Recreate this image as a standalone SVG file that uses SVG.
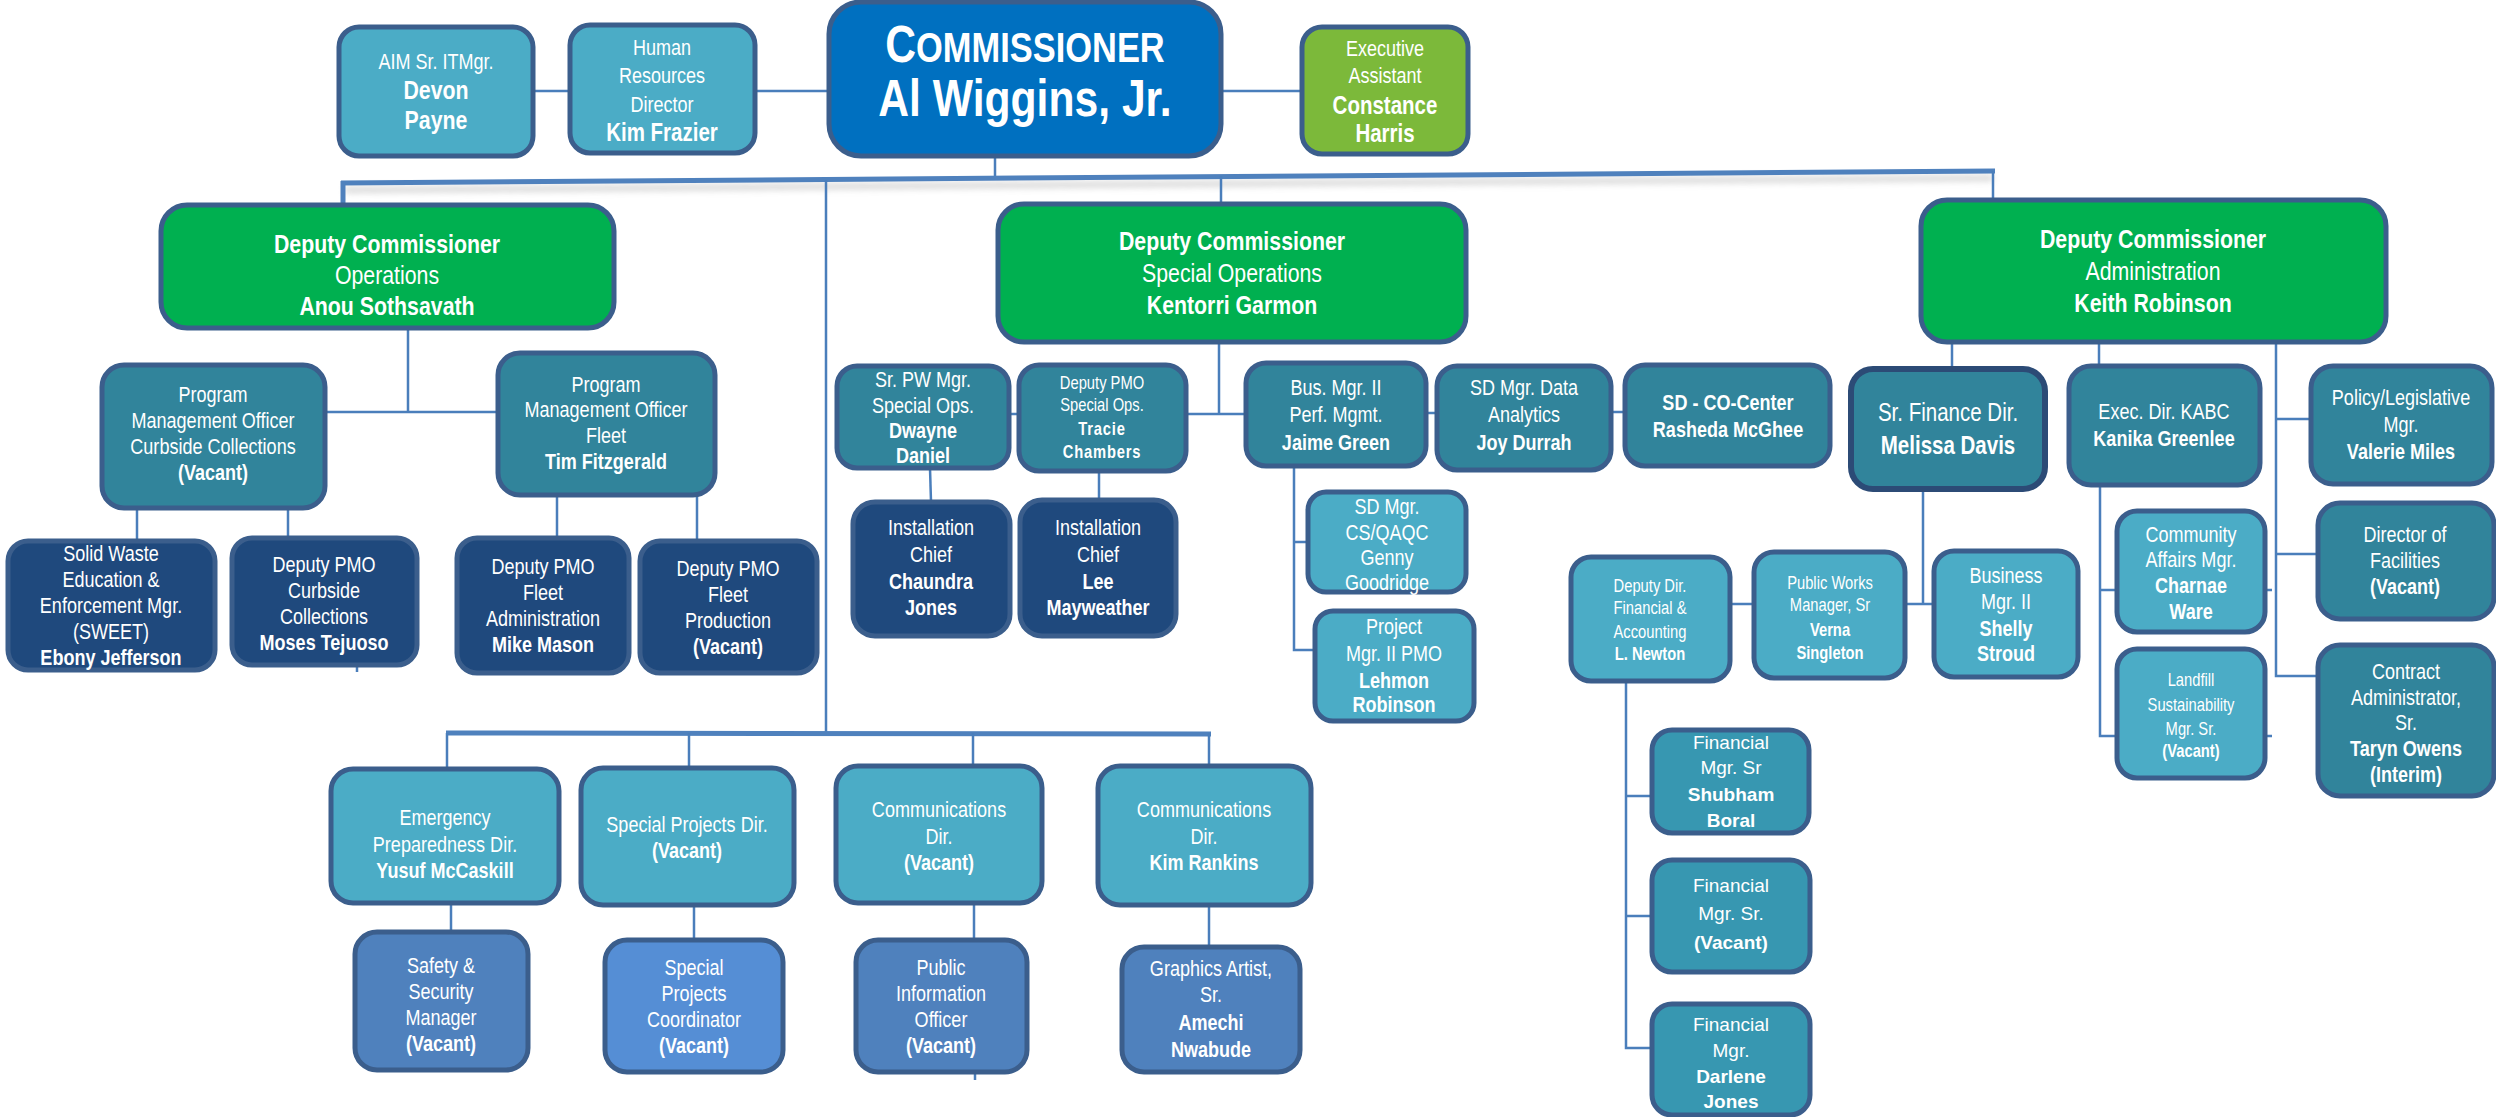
<svg xmlns="http://www.w3.org/2000/svg" width="2496" height="1117" viewBox="0 0 2496 1117">
<defs>
<style>
.n rect{stroke:#3B5E8C;stroke-width:5}
.c1{fill:#4BACC6}.c2{fill:#31849B}.c3{fill:#1F497D}.c4{fill:#4F81BD}.c5{fill:#558ED5}
.g{fill:#00B050}.ea{fill:#7CB93A}.cm{fill:#0070C0}.f{fill:#3797B1}
.t{font-family:'Liberation Sans',Arial,sans-serif;fill:#fff;text-anchor:middle;font-size:22px}
.r{font-size:19px}
.b{font-weight:bold}
.s{font-size:18px}
.d{font-size:26px}
.k line,.k path{stroke:#4A7EBB;stroke-width:2.5;fill:none}
.k .w{stroke-width:5;stroke:#4F81BD}
.k .sh{stroke:#bdbdbd;stroke-width:6;opacity:.6}
</style>
<filter id="bl" x="-5%" y="-200%" width="110%" height="500%"><feGaussianBlur stdDeviation="3"/></filter>
</defs>
<rect width="2496" height="1117" fill="#fff"/>

<g id="connectors" class="k">
<line class="sh" x1="345" y1="190" x2="1993" y2="178" filter="url(#bl)"/>
<line class="sh" x1="446" y1="740" x2="1211" y2="740" filter="url(#bl)"/>
<line x1="533" y1="91" x2="570" y2="91"/>
<line x1="755" y1="91" x2="829" y2="91"/>
<line x1="1221" y1="91" x2="1302" y2="91"/>
<line x1="995" y1="156" x2="995" y2="177"/>
<line class="w" x1="341" y1="183" x2="1995" y2="171"/>
<line class="w" x1="343" y1="181" x2="343" y2="205"/>
<line x1="826" y1="180" x2="826" y2="733"/>
<line x1="1221" y1="176" x2="1221" y2="204"/>
<line x1="1993" y1="171" x2="1993" y2="200"/>
<path d="M408 330V412M325 412H498"/>
<line x1="137" y1="508" x2="137" y2="541"/>
<line x1="288" y1="508" x2="288" y2="538"/>
<line x1="557" y1="495" x2="557" y2="538"/>
<line x1="697" y1="495" x2="697" y2="541"/>
<line x1="357" y1="665" x2="357" y2="672"/>
<path d="M1219 342V414M1009 414H1246M1426 413H1437M1611 412H1625"/>
<line x1="930" y1="468" x2="931" y2="502"/>
<line x1="1099" y1="466" x2="1099" y2="517"/>
<path d="M1294 466V650H1316M1294 542H1308"/>
<line class="w" x1="446" y1="733" x2="1211" y2="734"/>
<line x1="447" y1="733" x2="447" y2="769"/>
<line x1="689" y1="733" x2="689" y2="768"/>
<line x1="973" y1="733" x2="973" y2="766"/>
<line x1="1209" y1="733" x2="1209" y2="766"/>
<line x1="451" y1="903" x2="451" y2="932"/>
<line x1="694" y1="905" x2="694" y2="940"/>
<line x1="974" y1="903" x2="974" y2="940"/>
<line x1="1209" y1="905" x2="1209" y2="947"/>
<line x1="975" y1="1072" x2="975" y2="1080"/>
<line x1="1952" y1="342" x2="1952" y2="369"/>
<line x1="2099" y1="342" x2="2099" y2="366"/>
<path d="M2276 342V676H2318M2276 419H2311M2276 554H2318"/>
<path d="M2100 485V736H2117M2100 590H2117M2265 590H2272M2265 736H2272"/>
<path d="M1923 489V604M1905 604H1934M1730 604H1754"/>
<path d="M1626 681V1048H1654M1626 796H1652M1626 916H1652"/>
</g>

<g id="aim" class="n"><rect class="c1" x="339" y="27" width="194" height="129" rx="20"/>
<text class="t" transform="translate(436) scale(.82 1)"><tspan x="0" y="69">AIM Sr. ITMgr.</tspan><tspan class="b" x="0" y="99" font-size="26">Devon</tspan><tspan class="b" x="0" y="129" font-size="26">Payne</tspan></text></g>

<g id="hr" class="n"><rect class="c1" x="570" y="25" width="185" height="128" rx="20"/>
<text class="t" transform="translate(662) scale(.82 1)"><tspan x="0" y="55">Human</tspan><tspan x="0" y="83">Resources</tspan><tspan x="0" y="112">Director</tspan><tspan class="b" x="0" y="141" font-size="25">Kim Frazier</tspan></text></g>

<g id="commissioner" class="n"><rect class="cm" x="829" y="2" width="392" height="154" rx="32"/>
<text class="t b" transform="translate(1025) scale(.82 1)"><tspan x="0" y="62" font-size="52">C<tspan font-size="42">OMMISSIONER</tspan></tspan></text>
<text class="t b" transform="translate(1025) scale(.82 1)"><tspan x="0" y="116" font-size="52">Al Wiggins, Jr.</tspan></text></g>

<g id="exec-assistant" class="n"><rect class="ea" x="1302" y="27" width="166" height="127" rx="20"/>
<text class="t" transform="translate(1385) scale(.82 1)"><tspan x="0" y="56">Executive</tspan><tspan x="0" y="83">Assistant</tspan><tspan class="b" x="0" y="114" font-size="25">Constance</tspan><tspan class="b" x="0" y="142" font-size="25">Harris</tspan></text></g>

<g id="dc-operations" class="n"><rect class="g" x="161" y="205" width="453" height="123" rx="26"/>
<text class="t d" transform="translate(387) scale(.82 1)"><tspan class="b" x="0" y="253">Deputy Commissioner</tspan><tspan x="0" y="284">Operations</tspan><tspan class="b" x="0" y="315">Anou Sothsavath</tspan></text></g>

<g id="dc-special-ops" class="n"><rect class="g" x="998" y="204" width="468" height="138" rx="26"/>
<text class="t d" transform="translate(1232) scale(.82 1)"><tspan class="b" x="0" y="250">Deputy Commissioner</tspan><tspan x="0" y="282">Special  Operations</tspan><tspan class="b" x="0" y="314">Kentorri Garmon</tspan></text></g>

<g id="dc-administration" class="n"><rect class="g" x="1921" y="200" width="465" height="142" rx="26"/>
<text class="t d" transform="translate(2153) scale(.82 1)"><tspan class="b" x="0" y="248">Deputy Commissioner</tspan><tspan x="0" y="280">Administration</tspan><tspan class="b" x="0" y="312">Keith Robinson</tspan></text></g>

<g id="pmo-curbside" class="n"><rect class="c2" x="102" y="365" width="223" height="143" rx="22"/>
<text class="t" transform="translate(213) scale(.82 1)"><tspan x="0" y="402">Program</tspan><tspan x="0" y="428">Management Officer</tspan><tspan x="0" y="454">Curbside Collections</tspan><tspan class="b" x="0" y="480">(Vacant)</tspan></text></g>

<g id="pmo-fleet" class="n"><rect class="c2" x="498" y="353" width="217" height="142" rx="22"/>
<text class="t" transform="translate(606) scale(.82 1)"><tspan x="0" y="392">Program</tspan><tspan x="0" y="417">Management Officer</tspan><tspan x="0" y="443">Fleet</tspan><tspan class="b" x="0" y="469">Tim Fitzgerald</tspan></text></g>

<g id="solid-waste" class="n"><rect class="c3" x="8" y="541" width="207" height="129" rx="20"/>
<text class="t" transform="translate(111) scale(.82 1)"><tspan x="0" y="561">Solid Waste</tspan><tspan x="0" y="587">Education &amp;</tspan><tspan x="0" y="613">Enforcement Mgr.</tspan><tspan x="0" y="639">(SWEET)</tspan><tspan class="b" x="0" y="665">Ebony Jefferson</tspan></text></g>

<g id="dpmo-curbside" class="n"><rect class="c3" x="232" y="538" width="185" height="127" rx="20"/>
<text class="t" transform="translate(324) scale(.82 1)"><tspan x="0" y="572">Deputy PMO</tspan><tspan x="0" y="598">Curbside</tspan><tspan x="0" y="624">Collections</tspan><tspan class="b" x="0" y="650">Moses Tejuoso</tspan></text></g>

<g id="dpmo-fleet-admin" class="n"><rect class="c3" x="457" y="538" width="172" height="135" rx="20"/>
<text class="t" transform="translate(543) scale(.82 1)"><tspan x="0" y="574">Deputy PMO</tspan><tspan x="0" y="600">Fleet</tspan><tspan x="0" y="626">Administration</tspan><tspan class="b" x="0" y="652">Mike Mason</tspan></text></g>

<g id="dpmo-fleet-production" class="n"><rect class="c3" x="640" y="541" width="177" height="132" rx="20"/>
<text class="t" transform="translate(728) scale(.82 1)"><tspan x="0" y="576">Deputy PMO</tspan><tspan x="0" y="602">Fleet</tspan><tspan x="0" y="628">Production</tspan><tspan class="b" x="0" y="654">(Vacant)</tspan></text></g>

<g id="sr-pw-mgr" class="n"><rect class="c2" x="837" y="366" width="172" height="102" rx="20"/>
<text class="t" transform="translate(923) scale(.82 1)"><tspan x="0" y="387">Sr. PW Mgr.</tspan><tspan x="0" y="413">Special Ops.</tspan><tspan class="b" x="0" y="438">Dwayne</tspan><tspan class="b" x="0" y="463">Daniel</tspan></text></g>

<g id="dpmo-special-ops" class="n"><rect class="c2" x="1019" y="365" width="167" height="106" rx="20"/>
<text class="t s" transform="translate(1102) scale(.82 1)"><tspan x="0" y="389">Deputy  PMO</tspan><tspan x="0" y="411">Special Ops.</tspan><tspan class="b" x="0" y="435" letter-spacing="1">Tracie</tspan><tspan class="b" x="0" y="458" letter-spacing="1">Chambers</tspan></text></g>

<g id="bus-mgr" class="n"><rect class="c2" x="1246" y="363" width="180" height="103" rx="20"/>
<text class="t" transform="translate(1336) scale(.82 1)"><tspan x="0" y="395">Bus. Mgr. II</tspan><tspan x="0" y="422">Perf. Mgmt.</tspan><tspan class="b" x="0" y="450">Jaime Green</tspan></text></g>

<g id="sd-data" class="n"><rect class="c2" x="1437" y="366" width="174" height="104" rx="20"/>
<text class="t" transform="translate(1524) scale(.82 1)"><tspan x="0" y="395">SD Mgr. Data</tspan><tspan x="0" y="422">Analytics</tspan><tspan class="b" x="0" y="450">Joy Durrah</tspan></text></g>

<g id="sd-co-center" class="n"><rect class="c2" x="1625" y="365" width="205" height="101" rx="20"/>
<text class="t b" transform="translate(1728) scale(.82 1)"><tspan x="0" y="410">SD - CO-Center</tspan><tspan x="0" y="437">Rasheda McGhee</tspan></text></g>

<g id="install-jones" class="n"><rect class="c3" x="853" y="502" width="157" height="134" rx="22"/>
<text class="t" transform="translate(931) scale(.82 1)"><tspan x="0" y="535">Installation</tspan><tspan x="0" y="562">Chief</tspan><tspan class="b" x="0" y="589">Chaundra</tspan><tspan class="b" x="0" y="615">Jones</tspan></text></g>

<g id="install-mayweather" class="n"><rect class="c3" x="1020" y="500" width="156" height="136" rx="22"/>
<text class="t" transform="translate(1098) scale(.82 1)"><tspan x="0" y="535">Installation</tspan><tspan x="0" y="562">Chief</tspan><tspan class="b" x="0" y="589">Lee</tspan><tspan class="b" x="0" y="615">Mayweather</tspan></text></g>

<g id="sd-qaqc" class="n"><rect class="c1" x="1308" y="492" width="158" height="100" rx="18"/>
<text class="t" transform="translate(1387) scale(.82 1)"><tspan x="0" y="514">SD Mgr.</tspan><tspan x="0" y="540">CS/QAQC</tspan><tspan x="0" y="565">Genny</tspan><tspan x="0" y="590">Goodridge</tspan></text></g>

<g id="project-mgr" class="n"><rect class="c1" x="1315" y="611" width="159" height="110" rx="18"/>
<text class="t" transform="translate(1394) scale(.82 1)"><tspan x="0" y="634">Project</tspan><tspan x="0" y="661">Mgr. II PMO</tspan><tspan class="b" x="0" y="688">Lehmon</tspan><tspan class="b" x="0" y="712">Robinson</tspan></text></g>

<g id="emergency" class="n"><rect class="c1" x="331" y="769" width="228" height="134" rx="22"/>
<text class="t" transform="translate(445) scale(.82 1)"><tspan x="0" y="825">Emergency</tspan><tspan x="0" y="852">Preparedness Dir.</tspan><tspan class="b" x="0" y="878">Yusuf McCaskill</tspan></text></g>

<g id="special-projects" class="n"><rect class="c1" x="581" y="768" width="213" height="137" rx="22"/>
<text class="t" transform="translate(687) scale(.82 1)"><tspan x="0" y="832">Special Projects Dir.</tspan><tspan class="b" x="0" y="858">(Vacant)</tspan></text></g>

<g id="comm-vacant" class="n"><rect class="c1" x="836" y="766" width="206" height="137" rx="22"/>
<text class="t" transform="translate(939) scale(.82 1)"><tspan x="0" y="817">Communications</tspan><tspan x="0" y="844">Dir.</tspan><tspan class="b" x="0" y="870">(Vacant)</tspan></text></g>

<g id="comm-rankins" class="n"><rect class="c1" x="1098" y="766" width="213" height="139" rx="22"/>
<text class="t" transform="translate(1204) scale(.82 1)"><tspan x="0" y="817">Communications</tspan><tspan x="0" y="844">Dir.</tspan><tspan class="b" x="0" y="870">Kim Rankins</tspan></text></g>

<g id="safety" class="n"><rect class="c4" x="355" y="932" width="173" height="138" rx="22"/>
<text class="t" transform="translate(441) scale(.82 1)"><tspan x="0" y="973">Safety &amp;</tspan><tspan x="0" y="999">Security</tspan><tspan x="0" y="1025">Manager</tspan><tspan class="b" x="0" y="1051">(Vacant)</tspan></text></g>

<g id="sp-coordinator" class="n"><rect class="c5" x="605" y="940" width="178" height="132" rx="22"/>
<text class="t" transform="translate(694) scale(.82 1)"><tspan x="0" y="975">Special</tspan><tspan x="0" y="1001">Projects</tspan><tspan x="0" y="1027">Coordinator</tspan><tspan class="b" x="0" y="1053">(Vacant)</tspan></text></g>

<g id="pio" class="n"><rect class="c4" x="856" y="940" width="171" height="132" rx="22"/>
<text class="t" transform="translate(941) scale(.82 1)"><tspan x="0" y="975">Public</tspan><tspan x="0" y="1001">Information</tspan><tspan x="0" y="1027">Officer</tspan><tspan class="b" x="0" y="1053">(Vacant)</tspan></text></g>

<g id="graphics" class="n"><rect class="c4" x="1122" y="947" width="178" height="125" rx="22"/>
<text class="t" transform="translate(1211) scale(.82 1)"><tspan x="0" y="976">Graphics Artist,</tspan><tspan x="0" y="1002">Sr.</tspan><tspan class="b" x="0" y="1030">Amechi</tspan><tspan class="b" x="0" y="1057">Nwabude</tspan></text></g>

<g id="sr-finance" class="n"><rect class="c2" x="1851" y="369" width="194" height="120" rx="22" style="stroke:#2C4B76;stroke-width:6"/>
<text class="t" transform="translate(1948) scale(.82 1)"><tspan x="0" y="421" font-size="25">Sr. Finance  Dir.</tspan><tspan class="b" x="0" y="454" font-size="25">Melissa Davis</tspan></text></g>

<g id="exec-kabc" class="n"><rect class="c2" x="2069" y="366" width="191" height="119" rx="22"/>
<text class="t" transform="translate(2164) scale(.82 1)"><tspan x="0" y="419">Exec. Dir. KABC</tspan><tspan class="b" x="0" y="446">Kanika Greenlee</tspan></text></g>

<g id="policy" class="n"><rect class="c2" x="2311" y="366" width="181" height="118" rx="22"/>
<text class="t" transform="translate(2401) scale(.82 1)"><tspan x="0" y="405">Policy/Legislative</tspan><tspan x="0" y="432">Mgr.</tspan><tspan class="b" x="0" y="459">Valerie Miles</tspan></text></g>

<g id="facilities" class="n"><rect class="c2" x="2318" y="503" width="176" height="116" rx="22"/>
<text class="t" transform="translate(2405) scale(.82 1)"><tspan x="0" y="542">Director of</tspan><tspan x="0" y="568">Facilities</tspan><tspan class="b" x="0" y="594">(Vacant)</tspan></text></g>

<g id="contract-admin" class="n"><rect class="c2" x="2318" y="645" width="176" height="151" rx="22"/>
<text class="t" transform="translate(2406) scale(.82 1)"><tspan x="0" y="679">Contract</tspan><tspan x="0" y="705">Administrator,</tspan><tspan x="0" y="730">Sr.</tspan><tspan class="b" x="0" y="756">Taryn Owens</tspan><tspan class="b" x="0" y="782">(Interim)</tspan></text></g>

<g id="community" class="n"><rect class="c1" x="2117" y="511" width="148" height="121" rx="20"/>
<text class="t" transform="translate(2191) scale(.82 1)"><tspan x="0" y="542">Community</tspan><tspan x="0" y="567">Affairs Mgr.</tspan><tspan class="b" x="0" y="593">Charnae</tspan><tspan class="b" x="0" y="619">Ware</tspan></text></g>

<g id="landfill" class="n"><rect class="c1" x="2117" y="649" width="148" height="129" rx="20"/>
<text class="t s" transform="translate(2191) scale(.82 1)"><tspan x="0" y="686">Landfill</tspan><tspan x="0" y="711">Sustainability</tspan><tspan x="0" y="735">Mgr. Sr.</tspan><tspan class="b" x="0" y="757">(Vacant)</tspan></text></g>

<g id="deputy-dir-fin" class="n"><rect class="c1" x="1571" y="557" width="159" height="124" rx="20"/>
<text class="t s" transform="translate(1650) scale(.82 1)"><tspan x="0" y="592">Deputy  Dir.</tspan><tspan x="0" y="614">Financial &amp;</tspan><tspan x="0" y="638">Accounting</tspan><tspan class="b" x="0" y="660">L. Newton</tspan></text></g>

<g id="public-works" class="n"><rect class="c1" x="1754" y="552" width="151" height="126" rx="20"/>
<text class="t s" transform="translate(1830) scale(.82 1)"><tspan x="0" y="589">Public Works</tspan><tspan x="0" y="611">Manager,  Sr</tspan><tspan class="b" x="0" y="636">Verna</tspan><tspan class="b" x="0" y="659">Singleton</tspan></text></g>

<g id="business-mgr" class="n"><rect class="c1" x="1934" y="551" width="144" height="126" rx="20"/>
<text class="t" transform="translate(2006) scale(.82 1)"><tspan x="0" y="583">Business</tspan><tspan x="0" y="609">Mgr. II</tspan><tspan class="b" x="0" y="636">Shelly</tspan><tspan class="b" x="0" y="661">Stroud</tspan></text></g>

<g id="fin-boral" class="n"><rect class="f" x="1652" y="730" width="157" height="103" rx="20"/>
<text class="t r"><tspan x="1731" y="749">Financial</tspan><tspan x="1731" y="774">Mgr. Sr</tspan><tspan class="b" x="1731" y="801">Shubham</tspan><tspan class="b" x="1731" y="827">Boral</tspan></text></g>

<g id="fin-vacant" class="n"><rect class="f" x="1652" y="860" width="158" height="112" rx="20"/>
<text class="t r"><tspan x="1731" y="892">Financial</tspan><tspan x="1731" y="920">Mgr. Sr.</tspan><tspan class="b" x="1731" y="949">(Vacant)</tspan></text></g>

<g id="fin-jones" class="n"><rect class="f" x="1652" y="1004" width="158" height="111" rx="20"/>
<text class="t r"><tspan x="1731" y="1031">Financial</tspan><tspan x="1731" y="1057">Mgr.</tspan><tspan class="b" x="1731" y="1083">Darlene</tspan><tspan class="b" x="1731" y="1108">Jones</tspan></text></g>
</svg>
